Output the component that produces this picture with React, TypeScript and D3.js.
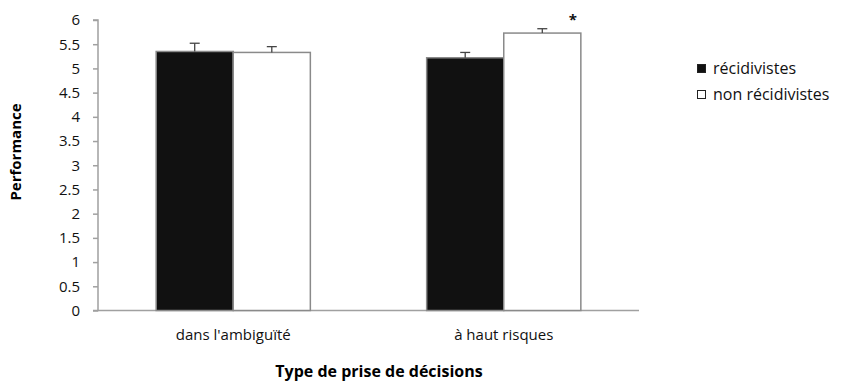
import { useEffect, useRef } from "react";
import { axisLeft, scaleBand, scaleLinear, select } from "d3";

const categories = ["dans l'ambiguïté", "à haut risques"];
const groups = ["récidivistes", "non récidivistes"];
const recidivistes = [5.35, 5.22];
const nonRecidivistes = [5.33, 5.73];
const errRecidivistes = [0.17, 0.11];
const errNonRecidivistes = [0.12, 0.09];
const yTicks = [0, 0.5, 1, 1.5, 2, 2.5, 3, 3.5, 4, 4.5, 5, 5.5, 6];
const significant = [false, true];

const W = 841;
const H = 385;
const FONT = "'Open Sans', sans-serif";

export default function App() {
  const svgRef = useRef<SVGSVGElement>(null);

  useEffect(() => {
    const svg = select(svgRef.current);
    svg.selectAll("*").remove();

    const x0 = 98;
    const x1 = 639;
    const yScale = scaleLinear().domain([0, 6]).range([310.5, 20]);
    const xScale = scaleBand().domain(categories).range([x0, x1]).paddingInner(0.43).paddingOuter(0.215);
    const xSub = scaleBand().domain(groups).range([0, xScale.bandwidth()]);

    const yAxis = axisLeft(yScale)
      .tickValues(yTicks)
      .tickSize(5)
      .tickFormat((d: any) => String(d));
    const gy = svg.append("g").attr("transform", `translate(${x0},0)`).call(yAxis as any);
    gy.select(".domain").attr("stroke", "#a0a0a0").attr("stroke-width", 1.5)
      .attr("d", `M-5,${yScale(6)}H0V${yScale(0)}H-5`);
    gy.selectAll(".tick line").attr("stroke", "#a0a0a0").attr("stroke-width", 1.5);
    gy.selectAll(".tick text")
      .attr("x", -18)
      .attr("fill", "#111")
      .style("font-family", FONT)
      .style("font-size", "15px");

    // x baseline
    svg.append("line")
      .attr("x1", x0).attr("x2", x1)
      .attr("y1", yScale(0)).attr("y2", yScale(0))
      .attr("stroke", "#a0a0a0").attr("stroke-width", 1.5);

    const series = [
      { key: groups[0], values: recidivistes, errs: errRecidivistes, fill: "#111111" },
      { key: groups[1], values: nonRecidivistes, errs: errNonRecidivistes, fill: "#ffffff" },
    ];

    series.forEach((s) => {
      categories.forEach((c, i) => {
        const bx = (xScale(c) ?? 0) + (xSub(s.key) ?? 0);
        const bw = xSub.bandwidth();
        svg.append("rect")
          .attr("x", bx).attr("y", yScale(s.values[i]))
          .attr("width", bw).attr("height", yScale(0) - yScale(s.values[i]))
          .attr("fill", s.fill)
          .attr("stroke", "#8a8a8a").attr("stroke-width", 1.5);
        const cx = bx + bw / 2;
        const top = yScale(s.values[i] + s.errs[i]);
        svg.append("line")
          .attr("x1", cx).attr("x2", cx)
          .attr("y1", yScale(s.values[i])).attr("y2", top)
          .attr("stroke", "#444").attr("stroke-width", 1.3);
        svg.append("line")
          .attr("x1", cx - 5).attr("x2", cx + 5)
          .attr("y1", top).attr("y2", top)
          .attr("stroke", "#444").attr("stroke-width", 1.3);
      });
    });

    categories.forEach((c, i) => {
      svg.append("text")
        .attr("x", (xScale(c) ?? 0) + xScale.bandwidth() / 2)
        .attr("y", 340)
        .attr("text-anchor", "middle")
        .attr("fill", "#111")
        .style("font-family", FONT)
        .style("font-size", "15px")
        .text(c);
      if (significant[i]) {
        const bx = (xScale(c) ?? 0) + (xSub(groups[1]) ?? 0) + xSub.bandwidth();
        svg.append("text")
          .attr("x", bx - 8)
          .attr("y", 25)
          .attr("text-anchor", "middle")
          .attr("fill", "#111")
          .style("font-family", FONT)
          .style("font-size", "15px")
          .style("font-weight", "bold")
          .text("*");
      }
    });

    svg.append("text")
      .attr("x", 379).attr("y", 377)
      .attr("text-anchor", "middle")
      .attr("fill", "#000")
      .style("font-family", FONT)
      .style("font-size", "16px")
      .style("font-weight", "bold")
      .text("Type de prise de décisions");

    svg.append("text")
      .attr("transform", `translate(21,152) rotate(-90)`)
      .attr("text-anchor", "middle")
      .attr("fill", "#000")
      .style("font-family", FONT)
      .style("font-size", "15px")
      .style("font-weight", "bold")
      .text("Performance");

    // legend
    const legend = svg.append("g").attr("transform", "translate(697,64)");
    series.forEach((s, i) => {
      const g = legend.append("g").attr("transform", `translate(0,${i * 26})`);
      g.append("rect")
        .attr("x", 0.5).attr("y", 0.5).attr("width", 8).attr("height", 8)
        .attr("fill", s.fill).attr("stroke", "#222").attr("stroke-width", 1);
      g.append("text")
        .attr("x", 16).attr("y", 10)
        .attr("fill", "#111")
        .style("font-family", FONT)
        .style("font-size", "16px")
        .text(s.key);
    });
  }, []);

  return (
    <svg
      ref={svgRef}
      width={W}
      height={H}
      style={{ position: "absolute", left: 0, top: 0, background: "#fff" }}
    />
  );
}
